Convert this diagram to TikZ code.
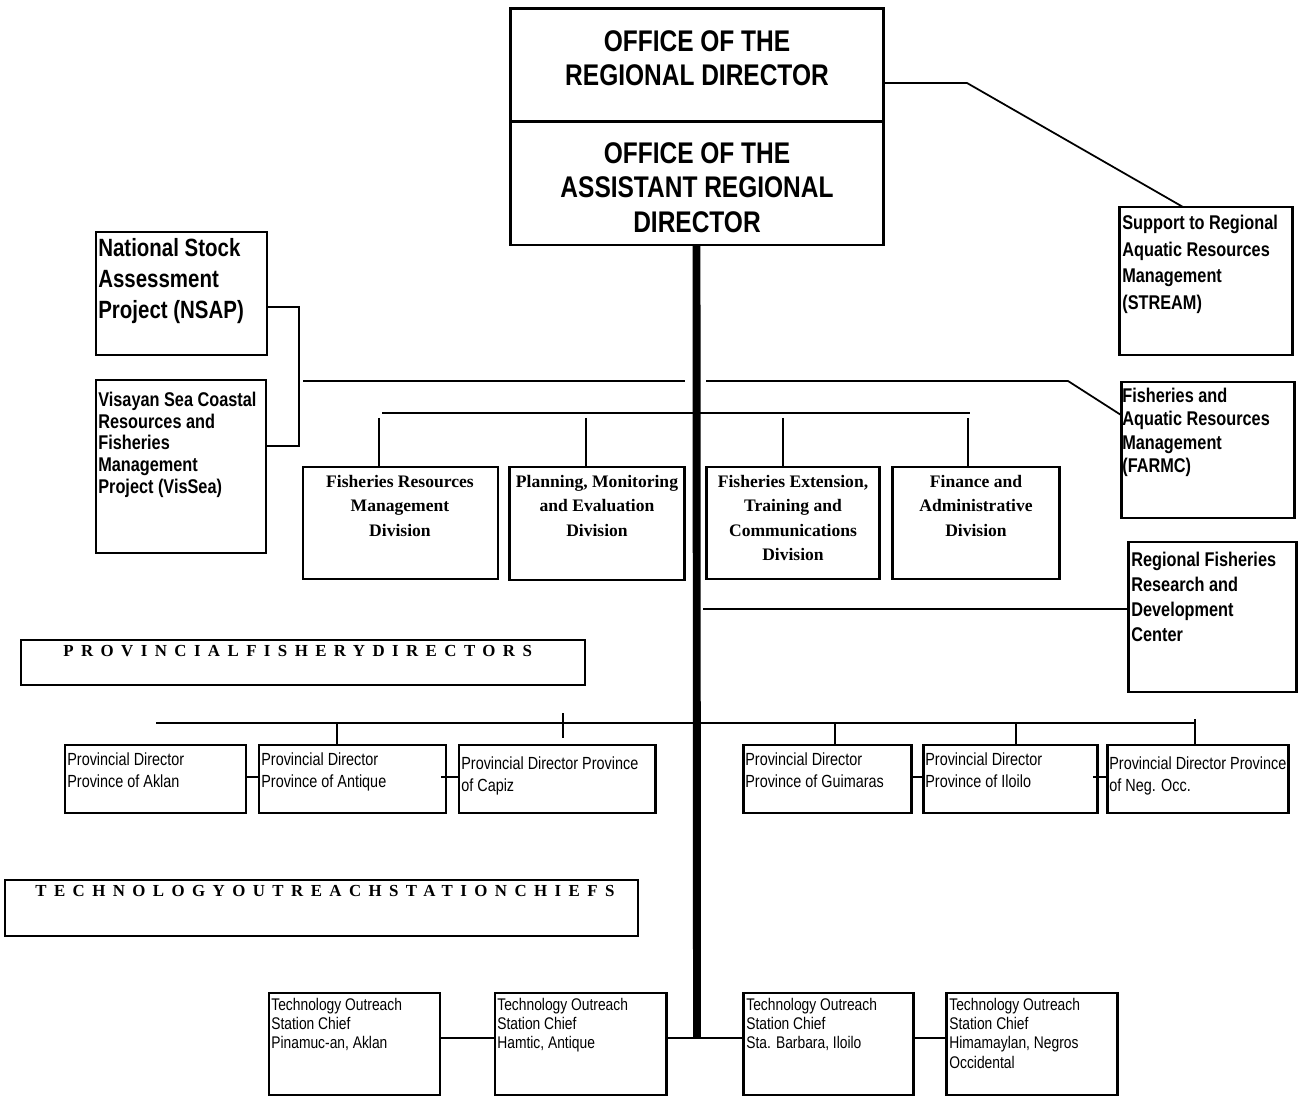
\documentclass[tikz,border=0pt]{standalone}
\usepackage{fontspec}
\setmainfont{Liberation Sans}
\newfontfamily\narF[FakeStretch=0.82]{Liberation Sans}
\newfontfamily\tmsF{Liberation Serif}
\newfontfamily\spcF[LetterSpace=44]{Liberation Serif}
\newcommand\setfs[2]{\fontsize{#1}{#2}\selectfont}
\newcommand\bx[6]{\node[#6, minimum width={(#4-#2)*0.02cm}, minimum height={(#5-#3)*0.02cm}] (#1) at ({(#2+#4)/2},{(#3+#5)/2}) {};}
\tikzset{
  box/.style={draw, line width=1.7pt, inner sep=0pt, outer sep=0pt},
  hbox/.style={draw, line width=1.2pt, inner sep=0pt, outer sep=0pt},
  conn/.style={line width=1pt},
  trunk/.style={line width=4.5pt},
  tl/.style={anchor=north west, inner sep=0pt, align=left},
  tc/.style={anchor=north, inner sep=0pt, align=center},
  topT/.style={font=\narF\bfseries\setfs{17}{19.6}},
  sideT/.style={font=\narF\bfseries\setfs{11.3}{#1}},
  divT/.style={font=\tmsF\bfseries\setfs{10}{13.8}},
  provT/.style={font=\narF\setfs{10}{12.5}},
  techT/.style={font=\narF\setfs{9.6}{10.9}},
  hdrT/.style={font=\spcF\bfseries\setfs{9.6}{11}}
}
\begin{document}
\begin{tikzpicture}[x=0.02cm, y=-0.02cm]
\useasboundingbox (0,0) rectangle (1298,1097);
% boxes
\bx{rd}{510}{9}{883}{122}{box}
\bx{ard}{510}{122}{883}{245}{box}
\bx{stream}{1119}{207}{1292}{355}{box}
\bx{nsap}{96}{232}{267}{355}{box}
\bx{vissea}{96}{380}{266}{553}{box}
\bx{farmc}{1121}{382}{1294}{518}{box}
\bx{frmd}{303}{467}{498}{579}{box}
\bx{pme}{509}{467}{684}{580}{box}
\bx{fetc}{706}{467}{879}{579}{box}
\bx{fad}{892}{467}{1059}{579}{box}
\bx{rfrdc}{1128}{542}{1296}{692}{box}
\bx{hdrA}{21}{640}{585}{685}{hbox}
\bx{pAklan}{65}{745}{246}{813}{box}
\bx{pAntique}{259}{745}{446}{813}{box}
\bx{pCapiz}{459}{745}{655}{813}{box}
\bx{pGuimaras}{743}{745}{911}{813}{box}
\bx{pIloilo}{923}{745}{1097}{813}{box}
\bx{pNegOcc}{1107}{745}{1288}{813}{box}
\bx{hdrB}{5}{880}{638}{936}{hbox}
\bx{tPina}{269}{993}{440}{1095}{box}
\bx{tHamtic}{495}{993}{666}{1095}{box}
\bx{tSta}{743}{993}{913}{1095}{box}
\bx{tHima}{946}{993}{1117}{1095}{box}
% texts
\node[tc, topT] (rdT) at (697,30) {OFFICE OF THE\\REGIONAL DIRECTOR};
\node[tc, topT] (ardT) at (697,142) {OFFICE OF THE\\ASSISTANT REGIONAL\\DIRECTOR};
\node[tl, sideT=15.1] (streamT) at (1122,215) {Support to Regional\\Aquatic Resources\\Management\\(STREAM)};
\node[tl, font=\narF\bfseries\setfs{14.2}{17.6}] (nsapT) at (98,238) {National Stock\\Assessment\\Project (NSAP)};
\node[tl, sideT=12.3] (visseaT) at (98,392) {Visayan Sea Coastal\\Resources and\\Fisheries\\Management\\Project (VisSea)};
\node[tl, sideT=13.2] (farmcT) at (1122,388) {Fisheries and\\Aquatic Resources\\Management\\(FARMC)};
\node[tl, sideT=14.2] (rfrdcT) at (1131,552) {Regional Fisheries\\Research and\\Development\\Center};
\node[tc, divT] (frmdT) at (400,475) {Fisheries Resources\\Management\\Division};
\node[tc, divT] (pmeT) at (597,475) {Planning, Monitoring\\and Evaluation\\Division};
\node[tc, divT] (fetcT) at (793,475) {Fisheries Extension,\\Training and\\Communications\\Division};
\node[tc, divT] (fadT) at (976,475) {Finance and\\Administrative\\Division};
\node[tl, hdrT] (hdrAT) at (63,645) {PROVINCIALFISHERYDIRECTORS};
\node[tl, hdrT] (hdrBT) at (35,885) {TECHNOLOGYOUTREACHSTATIONCHIEFS};
\node[tl, provT] (pAklanT) at (67,752) {Provincial Director\\Province of Aklan};
\node[tl, provT] (pAntiqueT) at (261,752) {Provincial Director\\Province of Antique};
\node[tl, provT] (pCapizT) at (461,756) {Provincial Director Province\\of Capiz};
\node[tl, provT] (pGuimarasT) at (745,752) {Provincial Director\\Province of Guimaras};
\node[tl, provT] (pIloiloT) at (925,752) {Provincial Director\\Province of Iloilo};
\node[tl, provT] (pNegOccT) at (1109,756) {Provincial Director Province\\of Neg. Occ.};
\node[tl, techT] (tPinaT) at (271,998) {Technology Outreach\\Station Chief\\Pinamuc-an, Aklan};
\node[tl, techT] (tHamticT) at (497,998) {Technology Outreach\\Station Chief\\Hamtic, Antique};
\node[tl, techT] (tStaT) at (746,998) {Technology Outreach\\Station Chief\\Sta. Barbara, Iloilo};
\node[tl, techT] (tHimaT) at (949,998) {Technology Outreach\\Station Chief\\Himamaylan, Negros\\Occidental};
% coordinates
\coordinate (s1) at (967,83);
\coordinate (s2) at (1183,207);
\coordinate (b1) at (299,307);
\coordinate (b2) at (299,446);
\coordinate (u1) at (303,381);
\coordinate (u2) at (685,381);
\coordinate (u3) at (706,381);
\coordinate (u4) at (1068,381);
\coordinate (u5) at (1121,415);
\coordinate (d1) at (382,413);
\coordinate (d2) at (970,413);
\coordinate (v1) at (379,418);
\coordinate (v2) at (586,418);
\coordinate (v3) at (783,418);
\coordinate (v4) at (968,418);
\coordinate (r1) at (703,609);
\coordinate (tr) at (697,1038);
\coordinate (pl1) at (156,723);
\coordinate (pl2) at (1195,723);
\coordinate (pv1) at (337,723);
\coordinate (pt1) at (563,713);
\coordinate (pt2) at (563,738);
\coordinate (pv2) at (835,723);
\coordinate (pv3) at (1016,723);
\coordinate (pv4) at (1195,719);
\coordinate (py) at (0,777);
\coordinate (py1) at (441,777);
\coordinate (py2) at (1093,777);
\coordinate (ty) at (0,1038);
% connectors
\draw[conn] (rd.east |- s1) -- (s1) -- (s2);
\draw[conn] (nsap.east |- b1) -- (b1) -- (b2) -- (vissea.east |- b2);
\draw[conn] (u1) -- (u2);
\draw[conn] (u3) -- (u4) -- (u5);
\draw[conn] (d1) -- (d2);
\draw[conn] (v1) -- (v1 |- frmd.north);
\draw[conn] (v2) -- (v2 |- pme.north);
\draw[conn] (v3) -- (v3 |- fetc.north);
\draw[conn] (v4) -- (v4 |- fad.north);
\draw[conn] (r1) -- (r1 -| rfrdc.west);
\draw[trunk] (ard.south) -- (tr);
\draw[conn] (pl1) -- (pl2);
\draw[conn] (pv1) -- (pv1 |- pAntique.north);
\draw[conn] (pt1) -- (pt2);
\draw[conn] (pv2) -- (pv2 |- pGuimaras.north);
\draw[conn] (pv3) -- (pv3 |- pIloilo.north);
\draw[conn] (pv4) -- (pv4 |- pNegOcc.north);
\draw[conn] (pAklan.east |- py) -- (pAntique.west |- py);
\draw[conn] (py1) -- (py1 -| pCapiz.west);
\draw[conn] (pGuimaras.east |- py) -- (pIloilo.west |- py);
\draw[conn] (py2) -- (py2 -| pNegOcc.west);
\draw[conn] (tPina.east |- ty) -- (tHamtic.west |- ty);
\draw[conn] (tHamtic.east |- ty) -- (tSta.west |- ty);
\draw[conn] (tSta.east |- ty) -- (tHima.west |- ty);
\end{tikzpicture}
\end{document}
